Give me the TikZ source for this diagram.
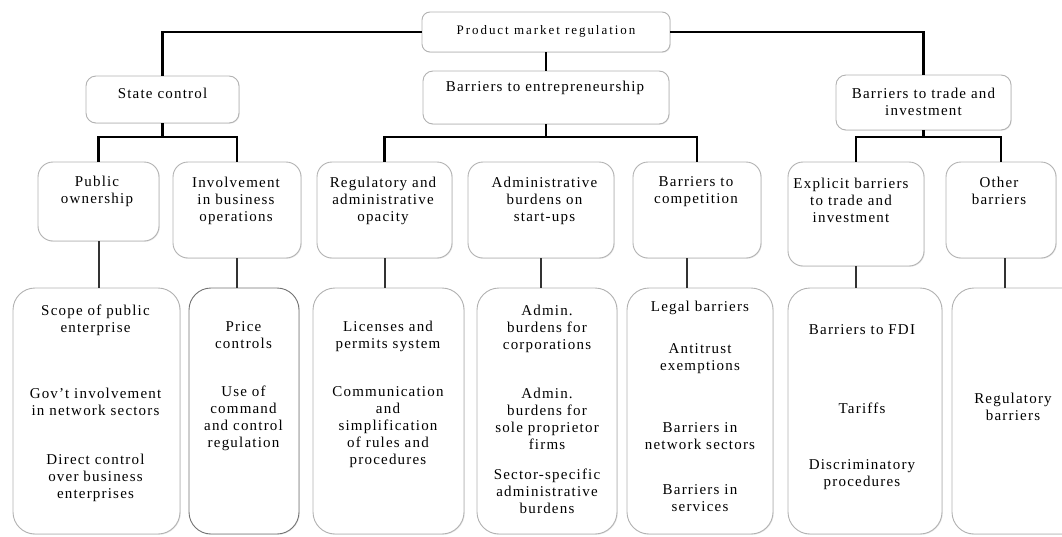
\documentclass[tikz,border=0pt]{standalone}
\usepackage{fontspec}
\setmainfont{Liberation Serif}
\newfontfamily\boxfont{Liberation Serif}[LetterSpace=8]
\newfontfamily\topfont{Liberation Serif}[LetterSpace=15]
\usetikzlibrary{shadows}
\begin{document}
\begin{tikzpicture}[x=1pt, y=-1pt,
  box/.style={draw=gray!60, fill=white, line width=0.9pt, rounded corners=#1, inner sep=0pt,
    drop shadow={shadow xshift=0.8pt, shadow yshift=-0.8pt, fill=gray!35}},
  box/.default=12pt,
  lbl/.style={align=center, inner sep=0pt, font=\boxfont\fontsize{15}{17}\selectfont},
  link/.style={line width=2.4pt, black},
  sublink/.style={line width=2pt, black!80}]
\useasboundingbox (0,0) rectangle (1062,536);
\clip (0,0) rectangle (1062,536);
% boxes
\node[box=8pt, minimum width=248pt, minimum height=40pt] (pmr) at (546,32) {};
\node[box=10pt, minimum width=153pt, minimum height=47pt] (sc) at (162.5,99.5) {};
\node[box=10pt, minimum width=246pt, minimum height=53pt] (bte) at (546,97.5) {};
\node[box=10pt, minimum width=175pt, minimum height=55pt] (btt) at (923.5,102.5) {};
\node[box=15pt, minimum width=121pt, minimum height=79pt] (po) at (98.5,201.5) {};
\node[box=15pt, minimum width=128pt, minimum height=96pt] (ibo) at (237,210) {};
\node[box=15pt, minimum width=135pt, minimum height=96pt] (rao) at (384.5,210) {};
\node[box=15pt, minimum width=146pt, minimum height=96pt] (abs) at (541,210) {};
\node[box=15pt, minimum width=128pt, minimum height=96pt] (btc) at (697,210) {};
\node[box=15pt, minimum width=136pt, minimum height=104pt] (ebt) at (856,214) {};
\node[box=15pt, minimum width=110pt, minimum height=96pt] (ob) at (1001,210) {};
\node[box=22pt, minimum width=167pt, minimum height=246pt] (ind1) at (96.5,411) {};
\node[box=22pt, draw=black!55, minimum width=110pt, minimum height=246pt] (ind2) at (244,411) {};
\node[box=22pt, minimum width=151pt, minimum height=246pt] (ind3) at (388.5,411) {};
\node[box=22pt, minimum width=140pt, minimum height=246pt] (ind4) at (547,411) {};
\node[box=22pt, minimum width=146pt, minimum height=246pt] (ind5) at (700,411) {};
\node[box=22pt, minimum width=154pt, minimum height=246pt] (ind6) at (865,411) {};
\node[box=22pt, minimum width=158pt, minimum height=246pt] (ind7) at (1031,411) {};
% joints
\coordinate (scj) at (162.5,137);
\coordinate (btej) at (546,137);
\coordinate (bttj) at (923.5,137);
% connectors
\draw[link] (pmr.west) -| (sc.north);
\draw[link] (pmr.east) -| (btt.north);
\draw[link] (pmr.south) -- (bte.north);
\draw[link] (sc.south) -- (scj);
\draw[link] (po.north) |- (scj) -| (ibo.north);
\draw[link] (bte.south) -- (btej);
\draw[link] (rao.north) |- (btej) -| (btc.north);
\draw[link] (btt.south) -- (bttj);
\draw[link] (ebt.north) |- (bttj) -| (ob.north);
\draw[sublink] (po.south) -- (po.south |- ind1.north);
\draw[sublink] (ibo.south) -- (ibo.south |- ind2.north);
\draw[sublink] (rao.south) -- (rao.south |- ind3.north);
\draw[sublink] (abs.south) -- (abs.south |- ind4.north);
\draw[sublink] ([xshift=-10pt]btc.south) -- ([xshift=-10pt]btc.south |- ind5.north);
\draw[sublink] (ebt.south) -- (ebt.south |- ind6.north);
\draw[sublink] ([xshift=4pt]ob.south) -- ([xshift=4pt]ob.south |- ind7.north);
% texts
\node[lbl] (pmrt) at (546,31) {\topfont\fontsize{13}{15}\selectfont Product market regulation};
\node[lbl] (sct) at (162.5,93) {State control};
\node[lbl] (btet) at (545,88) {Barriers to entrepreneurship};
\node[lbl] (bttt) at (923.5,102) {Barriers to trade and\\investment};
\node[lbl] (pot) at (97,191.5) {Public\\ownership};
\node[lbl] (ibot) at (236,201) {Involvement\\in business\\operations};
\node[lbl] (raot) at (383,201) {Regulatory and\\administrative\\opacity};
\node[lbl] (abst) at (544.5,201) {Administrative\\burdens on\\start-ups};
\node[lbl] (btct) at (696,192) {Barriers to\\competition};
\node[lbl] (ebtt) at (851,200) {Explicit barriers\\to trade and\\investment};
\node[lbl] (obt) at (999,190.5) {Other\\barriers};
\node[lbl] (i1a) at (95.5,320) {Scope of public\\enterprise};
\node[lbl] (i1b) at (95.5,402) {Gov’t involvement\\in network sectors};
\node[lbl] (i1c) at (95.5,477.5) {Direct control\\over business\\enterprises};
\node[lbl] (i2a) at (243.5,335.5) {Price\\controls};
\node[lbl] (i2b) at (243.5,418.5) {Use of\\command\\and control\\regulation};
\node[lbl] (i3a) at (388,336.5) {Licenses and\\permits system};
\node[lbl] (i3b) at (388,427) {Communication\\and\\simplification\\of rules and\\procedures};
\node[lbl] (i4a) at (547,328.5) {Admin.\\burdens for\\corporations};
\node[lbl] (i4b) at (547,419) {Admin.\\burdens for\\sole proprietor\\firms};
\node[lbl] (i4c) at (547,491.5) {Sector-specific\\administrative\\burdens};
\node[lbl] (i5a) at (700,308) {Legal barriers};
\node[lbl] (i5b) at (700,359) {Antitrust\\exemptions};
\node[lbl] (i5c) at (700,436.5) {Barriers in\\network sectors};
\node[lbl] (i5d) at (700,498) {Barriers in\\services};
\node[lbl] (i6a) at (862,330) {Barriers to FDI};
\node[lbl] (i6b) at (862,408) {Tariffs};
\node[lbl] (i6c) at (862,475) {Discriminatory\\procedures};
\node[lbl] (i7a) at (1013,406.5) {Regulatory\\barriers};
\end{tikzpicture}
\end{document}
